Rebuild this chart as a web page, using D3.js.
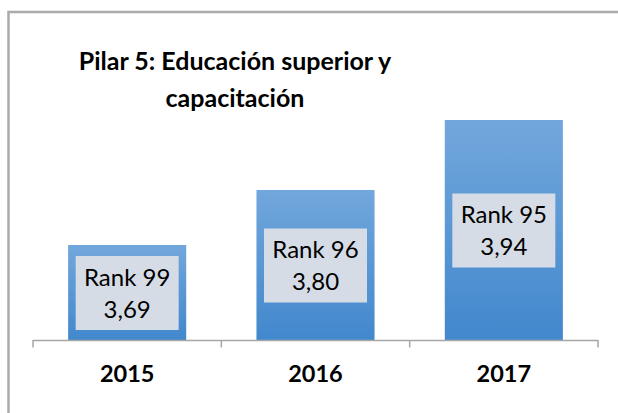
<!DOCTYPE html>
<html>
<head>
<meta charset="utf-8">
<script src="https://cdn.jsdelivr.net/npm/d3@7"></script>
<style>
  html, body { margin: 0; padding: 0; background: #ffffff; overflow: hidden; }
  svg { display: block; font-family: Lato, "Open Sans", sans-serif; }
</style>
</head>
<body>
<svg id="chart" width="618" height="413"></svg>
<script>
const titleLines = ["Pilar 5: Educación superior y", "capacitación"];
const years = ["2015", "2016", "2017"];
const scores = [3.69, 3.80, 3.94];
const ranks = [99, 96, 95];
const yDomain = [3.5, 4.0];

const svg = d3.select("#chart");

// outer chart border: only left and top edges are inside the picture
svg.append("path")
  .attr("d", "M8.5,413 L8.5,12 L618,12")
  .attr("fill", "none")
  .attr("stroke", "#ababab").attr("stroke-width", 2.5);

const plot = { left: 33, right: 598, top: 90, bottom: 340 };

const x = d3.scaleBand()
  .domain(years)
  .range([plot.left, plot.right])
  .paddingInner(0.373)
  .paddingOuter(0.1865);

const y = d3.scaleLinear()
  .domain(yDomain)
  .range([plot.bottom, plot.top]);

// gradient
const defs = svg.append("defs");
const grad = defs.append("linearGradient")
  .attr("id", "barGrad")
  .attr("x1", 0).attr("y1", 0).attr("x2", 0).attr("y2", 1);
grad.append("stop").attr("offset", "0%").attr("stop-color", "#72a7dc");
grad.append("stop").attr("offset", "100%").attr("stop-color", "#4288cd");

const data = years.map((yr, i) => ({ year: yr, score: scores[i], rank: ranks[i] }));

// bars
svg.append("g").selectAll("rect")
  .data(data)
  .join("rect")
  .attr("x", d => x(d.year))
  .attr("y", d => y(d.score))
  .attr("width", x.bandwidth())
  .attr("height", d => y(yDomain[0]) - y(d.score))
  .attr("fill", "url(#barGrad)");

// axis
const axis = d3.axisBottom(x).tickSize(0).tickPadding(0);
const gAxis = svg.append("g")
  .attr("transform", `translate(0,${plot.bottom})`)
  .call(axis);
gAxis.select(".domain").remove();
gAxis.append("line")
  .attr("x1", plot.left).attr("x2", plot.right)
  .attr("y1", 0.5).attr("y2", 0.5)
  .attr("stroke", "#a6a6a6").attr("stroke-width", 1.5);
// category boundary ticks
const bounds = d3.range(years.length + 1).map(i => plot.left + i * x.step());
gAxis.selectAll("line.bt")
  .data(bounds)
  .join("line")
  .attr("class", "bt")
  .attr("x1", d => d).attr("x2", d => d)
  .attr("y1", 0).attr("y2", 7.5)
  .attr("stroke", "#a6a6a6").attr("stroke-width", 1.5);
gAxis.selectAll(".tick text")
  .attr("y", 42)
  .attr("dy", 0)
  .attr("fill", "#000000")
  .style("font-family", "Lato, sans-serif")
  .style("font-size", "23.5px")
  .style("font-weight", "bold");

// value label boxes
const boxW = 103, boxH = 74;
const lbl = svg.append("g").selectAll("g")
  .data(data)
  .join("g")
  .attr("transform", d => {
    const cx = x(d.year) + x.bandwidth() / 2;
    const cy = (y(d.score) + y(yDomain[0])) / 2;
    return `translate(${cx},${cy})`;
  });
lbl.append("rect")
  .attr("x", -boxW / 2).attr("y", -boxH / 2 + 0.5)
  .attr("width", boxW).attr("height", boxH)
  .attr("fill", "#d6dce5");
const t = lbl.append("text")
  .attr("text-anchor", "middle")
  .attr("fill", "#000000")
  .style("font-size", "24px");
t.append("tspan").attr("x", 0).attr("y", -7).text(d => `Rank ${d.rank}`);
t.append("tspan").attr("x", 0).attr("y", 25).text(d => d.score.toFixed(2).replace(".", ","));

// title
const title = svg.append("text")
  .attr("text-anchor", "middle")
  .attr("fill", "#000000")
  .style("font-size", "25px")
  .style("font-weight", "bold");
title.selectAll("tspan")
  .data(titleLines)
  .join("tspan")
  .attr("x", 235)
  .attr("y", (d, i) => 70 + i * 37)
  .text(d => d);
</script>
</body>
</html>
